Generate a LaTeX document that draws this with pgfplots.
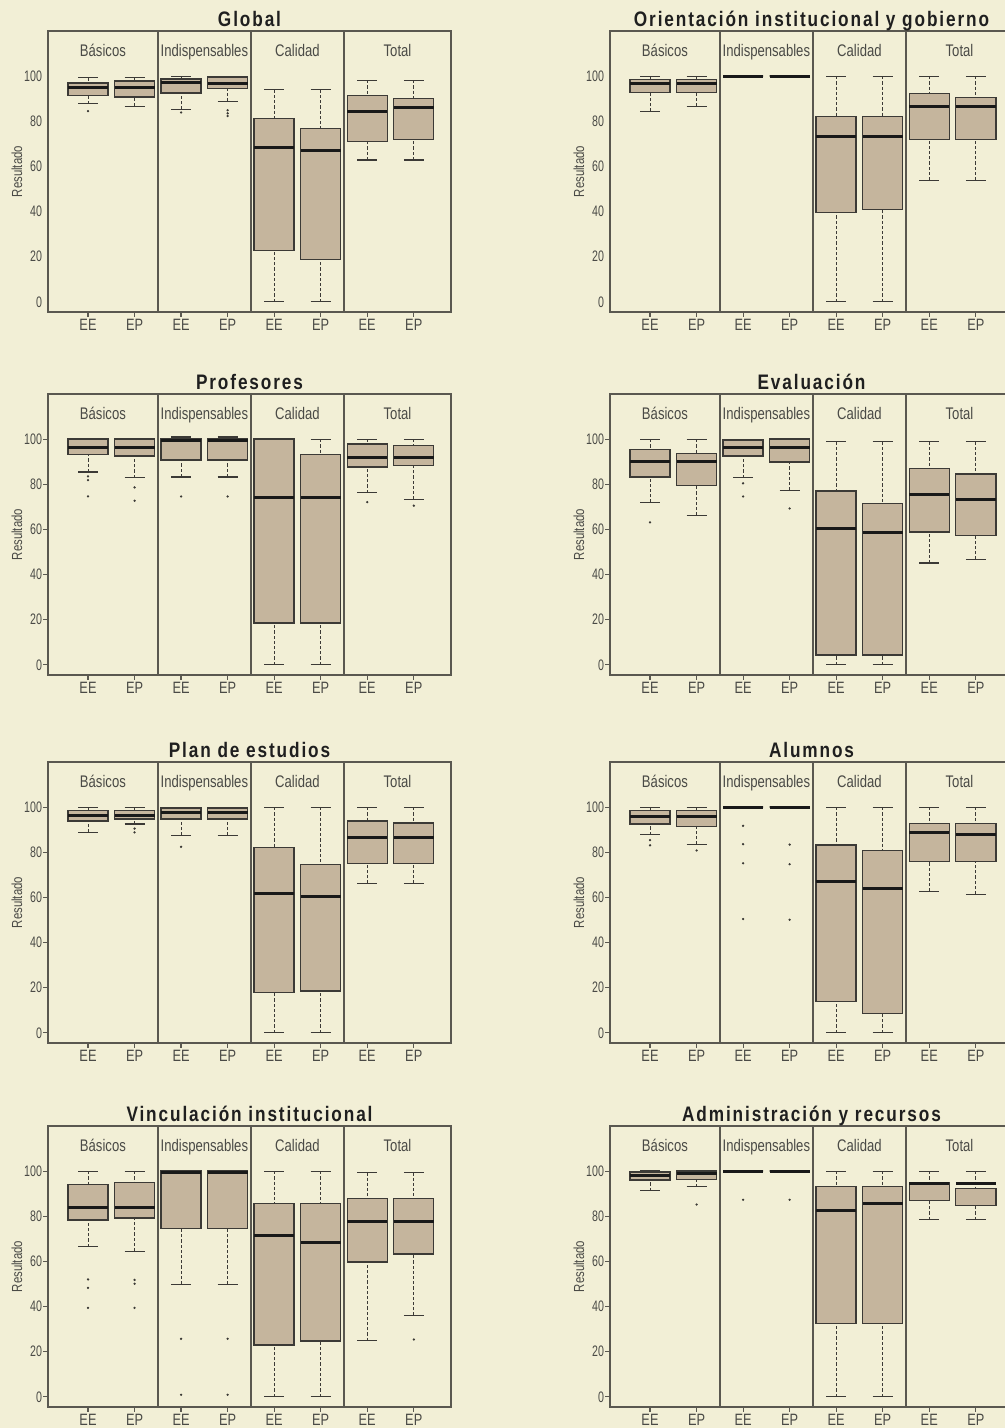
\documentclass[border=0pt]{standalone}
\usepackage{fontspec}
\setmainfont{Liberation Sans}[FakeStretch=0.78]
\newfontfamily\tickfont{Liberation Sans}[FakeStretch=0.7]
\newfontfamily\titlefont{Liberation Sans Bold}[FakeStretch=0.82,LetterSpace=9]
\usepackage{pgfplots}
\pgfplotsset{compat=1.18}
\usepgfplotslibrary{statistics}

\definecolor{bg}{HTML}{F2EFD6}
\definecolor{boxfill}{HTML}{C5B59D}
\definecolor{boxline}{HTML}{3C3A36}
\definecolor{framecol}{HTML}{5A5850}
\definecolor{labgray}{HTML}{4A4A46}

% one box: position, lower whisker, lower quartile, median, upper quartile, upper whisker, outliers
\newcommand{\bx}[7]{%
  \addplot[boxplot prepared={draw position=#1, lower whisker=#2, lower quartile=#3,
    median=#4, upper quartile=#5, upper whisker=#6}] coordinates {#7};}

\tikzset{strip/.style={anchor=base, font=\fontsize{8.4}{9}\selectfont, text=labgray}}

\newcommand{\strips}{%
  \node[strip] at (axis cs:1.32,108.6) {Básicos};
  \node[strip] at (axis cs:3.5,108.6) {Indispensables};
  \node[strip] at (axis cs:5.5,108.6) {Calidad};
  \node[strip] at (axis cs:7.65,108.6) {Total};}

\pgfplotsset{
  panel/.style={
    scale only axis, width=201.5pt, height=140.5pt,
    anchor=north west,
    xmin=0.14, xmax=8.8, ymin=-4.5, ymax=120,
    xtick={1,...,8}, xticklabels={EE,EP,EE,EP,EE,EP,EE,EP},
    ytick={0,20,40,60,80,100},
    extra x ticks={2.5,4.5,6.5}, extra x tick labels={},
    extra x tick style={grid=major, major tick length=0pt},
    major grid style={draw=framecol, line width=0.7pt, solid},
    tick align=outside, major tick length=2.5pt,
    xtick pos=lower, ytick pos=left,
    axis line style={draw=framecol, line width=0.75pt},
    tick style={draw=framecol, line width=0.6pt},
    /pgf/number format/assume math mode=true,
    yticklabel style={font=\tickfont\fontsize{7.6}{8}\selectfont, text=labgray, xshift=3pt},
    xticklabel style={font=\fontsize{8.2}{9}\selectfont, text=labgray, yshift=2.5pt},
    title style={font=\titlefont\fontsize{10.5}{12}\selectfont, text=black!88,
      at={(0.5,1)}, anchor=base, yshift=-4pt},
    ylabel={Resultado},
    ylabel style={font=\fontsize{7.3}{8}\selectfont, text=labgray,
      at={(axis description cs:-0.077,0.5)}, anchor=center},
    boxplot/draw direction=y,
    boxplot/box extend=0.86, boxplot/whisker extend=0.43,
    boxplot/every box/.style={fill=boxfill, draw=boxline, line width=0.7pt},
    boxplot/every median/.style={draw=black!90, line width=1.5pt},
    boxplot/draw/lower whisker/.code={%
      \draw[boxline, line width=0.5pt, dash pattern=on 1.6pt off 1pt]
        (boxplot box cs:\pgfplotsboxplotvalue{lower whisker},0.5) --
        (boxplot box cs:\pgfplotsboxplotvalue{lower quartile},0.5);
      \draw[boxline, line width=0.6pt]
        (boxplot whisker cs:\pgfplotsboxplotvalue{lower whisker},0) --
        (boxplot whisker cs:\pgfplotsboxplotvalue{lower whisker},1);},
    boxplot/draw/upper whisker/.code={%
      \draw[boxline, line width=0.5pt, dash pattern=on 1.6pt off 1pt]
        (boxplot box cs:\pgfplotsboxplotvalue{upper whisker},0.5) --
        (boxplot box cs:\pgfplotsboxplotvalue{upper quartile},0.5);
      \draw[boxline, line width=0.6pt]
        (boxplot whisker cs:\pgfplotsboxplotvalue{upper whisker},0) --
        (boxplot whisker cs:\pgfplotsboxplotvalue{upper whisker},1);},
    every axis plot/.append style={draw=boxline, mark=*, mark size=0.35pt,
      mark options={fill=black!80, draw=none}},
  },
  notick/.style={ytick style={draw=none}},
}

\begin{document}
\begin{tikzpicture}
\fill[bg] (0,0) rectangle (502.5pt,714pt);

% row 1
\begin{axis}[panel, notick, at={(24pt,698.5pt)}, title={Global}]
\strips
\bx{1}{87.7}{91.4}{95.0}{96.9}{99.3}{(1,84.5)}
\bx{2}{86.7}{90.7}{95.0}{97.8}{99.3}{}
\bx{3}{85.2}{92.6}{97.0}{98.8}{100}{(3,83.9)}
\bx{4}{88.8}{94.5}{96.9}{99.6}{100}{(4,84.9) (4,83.5) (4,82.3)}
\bx{5}{0}{22.7}{68.4}{81.1}{93.9}{}
\bx{6}{0}{18.8}{67.2}{76.7}{93.9}{}
\bx{7}{62.8}{70.9}{84.3}{91.3}{98.2}{}
\bx{8}{62.8}{71.9}{86.3}{90.1}{98.2}{}
\end{axis}

\begin{axis}[panel, notick, at={(305pt,698.5pt)}, title={Orientación institucional y gobierno}]
\strips
\bx{1}{84.3}{92.8}{96.6}{98.4}{99.7}{}
\bx{2}{86.7}{92.8}{96.9}{98.4}{99.7}{}
\bx{3}{100}{100}{100}{100}{100}{}
\bx{4}{100}{100}{100}{100}{100}{}
\bx{5}{0}{39.7}{73.1}{82.1}{100}{}
\bx{6}{0}{40.8}{73.1}{82.1}{100}{}
\bx{7}{53.9}{71.9}{86.7}{92.2}{100}{}
\bx{8}{53.9}{71.9}{86.7}{90.4}{100}{}
\end{axis}

% row 2
\begin{axis}[panel, at={(24pt,517pt)}, title={Profesores}]
\strips
\bx{1}{85.4}{93.2}{96.5}{100}{100}{(1,83.5) (1,81.8) (1,74.6)}
\bx{2}{82.9}{92.5}{96.5}{100}{100}{(2,78.6) (2,72.7)}
\bx{3}{83.2}{90.8}{99.3}{100}{100.9}{(3,74.6)}
\bx{4}{83.2}{90.8}{99.3}{100}{100.9}{(4,74.6)}
\bx{5}{0}{18.6}{74.3}{100}{100}{}
\bx{6}{0}{18.6}{74.3}{93.2}{100}{}
\bx{7}{76.2}{87.6}{91.7}{97.9}{100}{(7,72.1)}
\bx{8}{73.3}{88.2}{91.7}{97.3}{100}{(8,70.5)}
\end{axis}

\begin{axis}[panel, at={(305pt,517pt)}, title={Evaluación}]
\strips
\bx{1}{71.9}{83.3}{90.3}{95.4}{100}{(1,63.1)}
\bx{2}{66.2}{79.5}{90.3}{93.6}{100}{}
\bx{3}{82.9}{92.6}{96.5}{99.7}{100}{(3,80.4) (3,74.6)}
\bx{4}{77.3}{89.8}{96.5}{100}{100}{(4,69.3)}
\bx{5}{0}{4.3}{60.3}{77.1}{98.8}{}
\bx{6}{0}{4.3}{58.5}{71.5}{98.8}{}
\bx{7}{45.1}{58.9}{75.5}{86.9}{98.8}{}
\bx{8}{46.7}{57.3}{73.4}{84.6}{98.8}{}
\end{axis}

% row 3
\begin{axis}[panel, at={(24pt,333pt)}, title={Plan de estudios}]
\strips
\bx{1}{88.8}{93.8}{96.3}{98.4}{100}{}
\bx{2}{92.5}{94.7}{96.3}{98.4}{100}{(2,90.5) (2,88.8)}
\bx{3}{87.4}{94.8}{97.6}{99.7}{100}{(3,82.4)}
\bx{4}{87.4}{94.8}{97.6}{99.7}{100}{}
\bx{5}{0}{17.9}{61.7}{82.0}{100}{}
\bx{6}{0}{18.6}{60.4}{74.7}{100}{}
\bx{7}{66.1}{74.9}{86.5}{93.9}{100}{}
\bx{8}{66.1}{74.9}{86.5}{92.9}{100}{}
\end{axis}

\begin{axis}[panel, at={(305pt,333pt)}, title={Alumnos}]
\strips
\bx{1}{87.7}{92.5}{96.0}{98.4}{100}{(1,85.4) (1,83.1)}
\bx{2}{83.4}{91.4}{96.0}{98.4}{100}{(2,80.8)}
\bx{3}{100}{100}{100}{100}{100}{(3,91.7) (3,83.6) (3,75.1) (3,50.4)}
\bx{4}{100}{100}{100}{100}{100}{(4,83.4) (4,74.7) (4,50.1)}
\bx{5}{0}{13.9}{67.0}{83.3}{100}{}
\bx{6}{0}{8.6}{63.8}{80.8}{100}{}
\bx{7}{62.6}{75.9}{88.8}{92.8}{100}{}
\bx{8}{61.4}{75.9}{87.9}{92.8}{100}{}
\end{axis}

% row 4
\begin{axis}[panel, at={(24pt,151pt)}, title={Vinculación institucional}]
\strips
\bx{1}{66.5}{78.3}{84.0}{94.2}{100}{(1,52) (1,48.3) (1,39.4)}
\bx{2}{64.5}{79.2}{84.0}{95.0}{100}{(2,51.8) (2,50.1) (2,39.4)}
\bx{3}{49.9}{74.7}{99.4}{100}{100}{(3,25.7) (3,0.9)}
\bx{4}{49.9}{74.7}{99.4}{100}{100}{(4,25.7) (4,0.9)}
\bx{5}{0}{22.9}{71.6}{85.7}{100}{}
\bx{6}{0}{24.7}{68.2}{85.7}{100}{}
\bx{7}{24.8}{59.7}{77.5}{88.0}{99.4}{}
\bx{8}{36.0}{63.2}{77.5}{88.0}{99.4}{(8,25.4)}
\end{axis}

\begin{axis}[panel, at={(305pt,151pt)}, title={Administración y recursos}]
\strips
\bx{1}{91.3}{96.0}{97.9}{99.6}{100.4}{}
\bx{2}{93.1}{96.2}{98.8}{100}{100}{(2,85.2)}
\bx{3}{100}{100}{100}{100}{100}{(3,87.3)}
\bx{4}{100}{100}{100}{100}{100}{(4,87.3)}
\bx{5}{0}{32.5}{82.4}{93.2}{100}{}
\bx{6}{0}{32.5}{85.8}{93.2}{100}{}
\bx{7}{78.4}{86.9}{94.4}{94.8}{100}{}
\bx{8}{78.4}{84.9}{94.5}{92.3}{100}{}
\end{axis}

\pgfresetboundingbox
\path[use as bounding box] (0,0) rectangle (502.5pt,714pt);
\end{tikzpicture}
\end{document}
